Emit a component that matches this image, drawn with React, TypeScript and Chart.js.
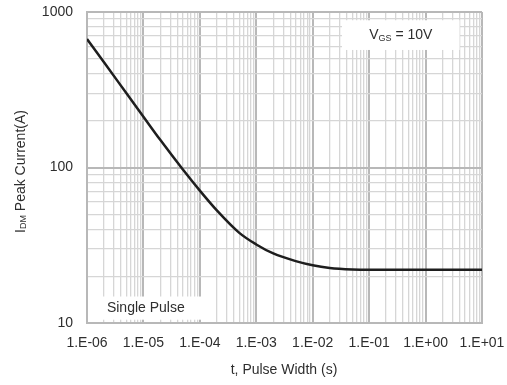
import React, { useEffect, useRef } from "react";
import { Chart, registerables } from "chart.js";

Chart.register(...registerables);

// Pulse width t (s) and peak drain current I_DM (A)
const pulseWidth = [1e-6, 2e-6, 5e-6, 1e-5, 2e-5, 5e-5, 1e-4, 2e-4, 5e-4, 1e-3, 2e-3, 5e-3, 1e-2, 2e-2, 5e-2, 1e-1, 1, 10];
const peakCurrent = [670, 475, 300, 212, 150, 97, 71, 53, 38, 32, 28, 25, 23.5, 22.6, 22.1, 22, 22, 22];

const xDecades = [-6, -5, -4, -3, -2, -1, 0, 1];
const xTickLabels = ["1.E-06", "1.E-05", "1.E-04", "1.E-03", "1.E-02", "1.E-01", "1.E+00", "1.E+01"];
const yDecades = [1, 2, 3];
const yTickLabels = ["10", "100", "1000"];

const xTitle = "t, Pulse Width (s)";
const yTitleMain = "I";
const yTitleSub = "DM";
const yTitleRest = " Peak Current(A)";
const vgsMain = "V";
const vgsSub = "GS";
const vgsRest = " = 10V";
const pulseLabel = "Single Pulse";

const FONT = "'Liberation Sans', Arial, sans-serif";
const TEXT = "#2e2e2e";
const FS = 14;

function isMajor(v: number | undefined) {
  if (v === undefined || v === null || v <= 0) return false;
  const l = Math.log10(v);
  return Math.abs(l - Math.round(l)) < 1e-6;
}

function buildLogTicks(decades: number[]) {
  const ticks: { value: number }[] = [];
  for (let i = 0; i < decades.length; i++) {
    const e = decades[i];
    if (i === decades.length - 1) {
      ticks.push({ value: Math.pow(10, e) });
    } else {
      for (let m = 1; m <= 9; m++) {
        ticks.push({ value: parseFloat((m * Math.pow(10, e)).toPrecision(6)) });
      }
    }
  }
  return ticks;
}

function labelFor(v: number, decades: number[], labels: string[]) {
  if (!isMajor(v)) return "";
  const e = Math.round(Math.log10(v));
  const idx = decades.indexOf(e);
  return idx >= 0 ? labels[idx] : "";
}

const textPlugin = {
  id: "customText",
  beforeDatasetsDraw(chart: any) {
    const ctx = chart.ctx;
    const xs = chart.scales.x;
    const ys = chart.scales.y;
    ctx.save();
    ctx.fillStyle = "#ffffff";
    const bx1 = xs.getPixelForValue(1.1e-6);
    const bx2 = xs.getPixelForValue(1.3e-4);
    const by1 = ys.getPixelForValue(14.8);
    const by2 = ys.getPixelForValue(10.5);
    ctx.fillRect(bx1, by1, bx2 - bx1, by2 - by1);
    const vx1 = xs.getPixelForValue(3.3e-2);
    const vx2 = xs.getPixelForValue(4);
    const vy1 = ys.getPixelForValue(885);
    const vy2 = ys.getPixelForValue(570);
    ctx.fillRect(vx1, vy1, vx2 - vx1, vy2 - vy1);

    ctx.fillStyle = TEXT;
    ctx.textBaseline = "middle";
    ctx.font = `${FS}px ${FONT}`;
    ctx.textAlign = "center";
    ctx.fillText(pulseLabel, (bx1 + bx2) / 2 - 2, (by1 + by2) / 2);

    ctx.textAlign = "left";
    ctx.font = `${FS}px ${FONT}`;
    const wV = ctx.measureText(vgsMain).width;
    const wRest = ctx.measureText(vgsRest).width;
    ctx.font = `9px ${FONT}`;
    const wSub = ctx.measureText(vgsSub).width;
    const total = wV + wSub + wRest;
    let tx = (vx1 + vx2) / 2 - total / 2;
    const ty = (vy1 + vy2) / 2;
    ctx.font = `${FS}px ${FONT}`;
    ctx.fillText(vgsMain, tx, ty);
    tx += wV;
    ctx.font = `9px ${FONT}`;
    ctx.fillText(vgsSub, tx, ty + 3);
    tx += wSub;
    ctx.font = `${FS}px ${FONT}`;
    ctx.fillText(vgsRest, tx, ty);
    ctx.restore();
  },
  afterDraw(chart: any) {
    const ctx = chart.ctx;
    const area = chart.chartArea;
    ctx.save();
    ctx.fillStyle = TEXT;
    ctx.textBaseline = "middle";
    ctx.font = `${FS}px ${FONT}`;
    ctx.textAlign = "center";
    ctx.fillText(xTitle, 284, 370);
    ctx.translate(21, (area.top + area.bottom) / 2 + 4);
    ctx.rotate(-Math.PI / 2);
    ctx.font = `${FS}px ${FONT}`;
    const wI = ctx.measureText(yTitleMain).width;
    const wR = ctx.measureText(yTitleRest).width;
    ctx.font = `9px ${FONT}`;
    const wS = ctx.measureText(yTitleSub).width;
    let x = -(wI + wS + wR) / 2;
    ctx.textAlign = "left";
    ctx.font = `${FS}px ${FONT}`;
    ctx.fillText(yTitleMain, x, 0);
    x += wI;
    ctx.font = `9px ${FONT}`;
    ctx.fillText(yTitleSub, x, 3);
    x += wS;
    ctx.font = `${FS}px ${FONT}`;
    ctx.fillText(yTitleRest, x, 0);
    ctx.restore();
  },
};

export default function App() {
  const canvasRef = useRef<HTMLCanvasElement | null>(null);

  useEffect(() => {
    document.body.style.margin = "0";
    const canvas = canvasRef.current;
    if (!canvas) return;
    const points = pulseWidth.map((t, i) => ({ x: t, y: peakCurrent[i] }));
    const gridColor = (c: any) => (isMajor(c.tick?.value) ? "#b8b8b8" : "#d6d6d6");
    const gridWidth = (c: any) => (isMajor(c.tick?.value) ? 2 : 1.3);
    const chart = new Chart(canvas, {
      type: "line",
      data: {
        datasets: [
          {
            data: points,
            borderColor: "#1e1e1e",
            borderWidth: 2.5,
            pointRadius: 0,
            fill: false,
            cubicInterpolationMode: "monotone",
          },
        ],
      },
      options: {
        animation: false,
        responsive: false,
        maintainAspectRatio: false,
        layout: { padding: { top: 12, right: 25, left: 0, bottom: 0 } },
        plugins: { legend: { display: false }, tooltip: { enabled: false } },
        scales: {
          x: {
            type: "logarithmic",
            min: 1e-6,
            max: 10,
            afterBuildTicks: (s: any) => {
              s.ticks = buildLogTicks(xDecades);
            },
            afterFit: (s: any) => {
              s.height = 62;
              s.paddingLeft = 0;
              s.paddingRight = 0;
            },
            ticks: {
              autoSkip: false,
              maxRotation: 0,
              minRotation: 0,
              padding: 12,
              color: TEXT,
              font: { family: FONT, size: FS },
              callback: (v: any) => labelFor(Number(v), xDecades, xTickLabels),
            },
            grid: { color: gridColor, lineWidth: gridWidth, drawTicks: false },
            border: { color: "#b8b8b8", width: 2 },
          },
          y: {
            type: "logarithmic",
            min: 10,
            max: 1000,
            afterBuildTicks: (s: any) => {
              s.ticks = buildLogTicks(yDecades);
            },
            afterFit: (s: any) => {
              s.width = 87;
              s.paddingTop = 0;
              s.paddingBottom = 0;
            },
            ticks: {
              autoSkip: false,
              padding: 14,
              color: TEXT,
              font: { family: FONT, size: FS },
              callback: (v: any) => labelFor(Number(v), yDecades, yTickLabels),
            },
            grid: { color: gridColor, lineWidth: gridWidth, drawTicks: false },
            border: { color: "#b8b8b8", width: 2 },
          },
        },
      },
      plugins: [textPlugin],
    } as any);
    return () => chart.destroy();
  }, []);

  return (
    <div style={{ width: 507, height: 385, background: "#fff" }}>
      <canvas ref={canvasRef} width={507} height={385} style={{ display: "block" }} />
    </div>
  );
}
